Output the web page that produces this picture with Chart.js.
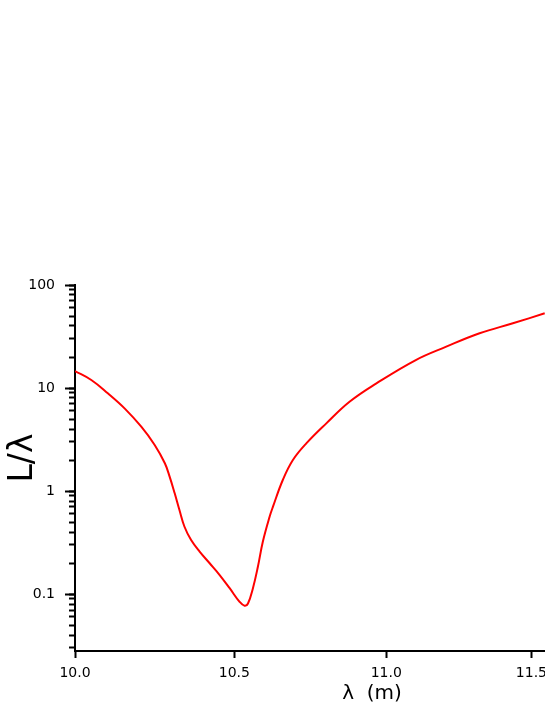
<!DOCTYPE html>
<html>
<head>
<meta charset="utf-8">
<script src="https://cdn.jsdelivr.net/npm/chart.js@4/dist/chart.umd.min.js"></script>
<style>
  html, body { margin: 0; padding: 0; background: #fff; }
  #wrap { width: 545px; height: 705px; }
</style>
</head>
<body>
<div id="wrap"><canvas id="myChart" width="545" height="705"></canvas></div>
<script>
// wavelength (m) and L/lambda
const lambdaVals = [10.000, 10.050, 10.101, 10.153, 10.205, 10.247, 10.279, 10.294, 10.310, 10.325,
  10.341, 10.362, 10.389, 10.421, 10.453, 10.485, 10.517, 10.533, 10.544, 10.560,
  10.576, 10.592, 10.614, 10.625, 10.657, 10.690, 10.734, 10.800, 10.877, 10.967,
  11.100, 11.204, 11.319, 11.435, 11.547];
const ratioVals = [14.6, 11.96, 8.89, 6.35, 4.21, 2.80, 1.86, 1.38, 0.95, 0.654,
  0.45, 0.334, 0.258, 0.199, 0.153, 0.114, 0.084, 0.077, 0.081, 0.114,
  0.184, 0.322, 0.563, 0.705, 1.28, 2.00, 2.90, 4.54, 7.36, 11.1,
  18.7, 25.2, 34.0, 42.5, 53.1];

const xTicks = [10.0, 10.5, 11.0, 11.5];
const yMajorTicks = [0.1, 1, 10, 100];
const yMinorTicks = [0.03, 0.04, 0.05, 0.06, 0.07, 0.08, 0.09, 0.1,
  0.2, 0.3, 0.4, 0.5, 0.6, 0.7, 0.8, 0.9, 1,
  2, 3, 4, 5, 6, 7, 8, 9, 10,
  20, 30, 40, 50, 60, 70, 80, 90, 100];

const xMin = 10.0, xMax = 11.548;
const yMin = 0.028, yMax = 100;

const points = lambdaVals.map((x, i) => ({ x: x, y: ratioVals[i] }));

// titles drawn on the canvas
const axisTitles = {
  id: "axisTitles",
  afterDraw(chart) {
    const ctx = chart.ctx;
    ctx.save();
    ctx.fillStyle = "#000";
    ctx.font = "33px 'DejaVu Sans'";
    ctx.textAlign = "center";
    ctx.textBaseline = "alphabetic";
    ctx.translate(32, 458);
    ctx.rotate(-Math.PI / 2);
    ctx.fillText("L/λ", 0, 0);
    ctx.restore();

    ctx.save();
    ctx.fillStyle = "#000";
    ctx.font = "20px 'DejaVu Sans'";
    ctx.textAlign = "center";
    ctx.textBaseline = "alphabetic";
    ctx.fillText("λ  (m)", 372, 699);
    ctx.restore();
  }
};

function noPad(scale) {
  scale.paddingLeft = 0;
  scale.paddingRight = 0;
  scale.paddingTop = 0;
  scale.paddingBottom = 0;
}

const ctx = document.getElementById("myChart").getContext("2d");
new Chart(ctx, {
  type: "scatter",
  data: {
    datasets: [{
      data: points,
      showLine: true,
      borderColor: "#ff0000",
      borderWidth: 2,
      pointRadius: 0,
      tension: 0.4,
      clip: 0
    }]
  },
  options: {
    responsive: false,
    animation: false,
    layout: { padding: { top: 285, right: 0, left: 0, bottom: 0 } },
    plugins: { legend: { display: false }, tooltip: { enabled: false } },
    scales: {
      x: {
        type: "logarithmic",
        position: "bottom",
        min: xMin,
        max: xMax,
        afterBuildTicks: (s) => { s.ticks = xTicks.map((v) => ({ value: v })); },
        afterFit: (s) => { s.height = 54; noPad(s); },
        border: { color: "#000", width: 2 },
        grid: { drawOnChartArea: false, tickLength: 7, tickWidth: 2, tickColor: "#000" },
        ticks: {
          color: "#000",
          font: { family: "'DejaVu Sans'", size: 14 },
          padding: 7,
          maxRotation: 0,
          autoSkip: false,
          callback: (v) => Number(v).toFixed(1)
        }
      },
      y: {
        type: "logarithmic",
        position: "left",
        weight: 1,
        min: yMin,
        max: yMax,
        afterBuildTicks: (s) => { s.ticks = yMajorTicks.map((v) => ({ value: v })); },
        afterFit: (s) => { s.width = 75; noPad(s); },
        border: { color: "#000", width: 2 },
        grid: { drawOnChartArea: false, tickLength: 10, tickWidth: 2, tickColor: "#000" },
        ticks: {
          color: "#000",
          font: { family: "'DejaVu Sans'", size: 14 },
          padding: 10,
          autoSkip: false,
          callback: (v) => String(v)
        }
      },
      yMinor: {
        type: "logarithmic",
        position: "left",
        weight: 0,
        min: yMin,
        max: yMax,
        afterBuildTicks: (s) => { s.ticks = yMinorTicks.map((v) => ({ value: v })); },
        afterFit: (s) => { s.width = 0; noPad(s); },
        border: { display: false },
        grid: { drawOnChartArea: false, tickLength: 6, tickWidth: 2, tickColor: "#000" },
        ticks: { display: false }
      }
    }
  },
  plugins: [axisTitles]
});
</script>
</body>
</html>
